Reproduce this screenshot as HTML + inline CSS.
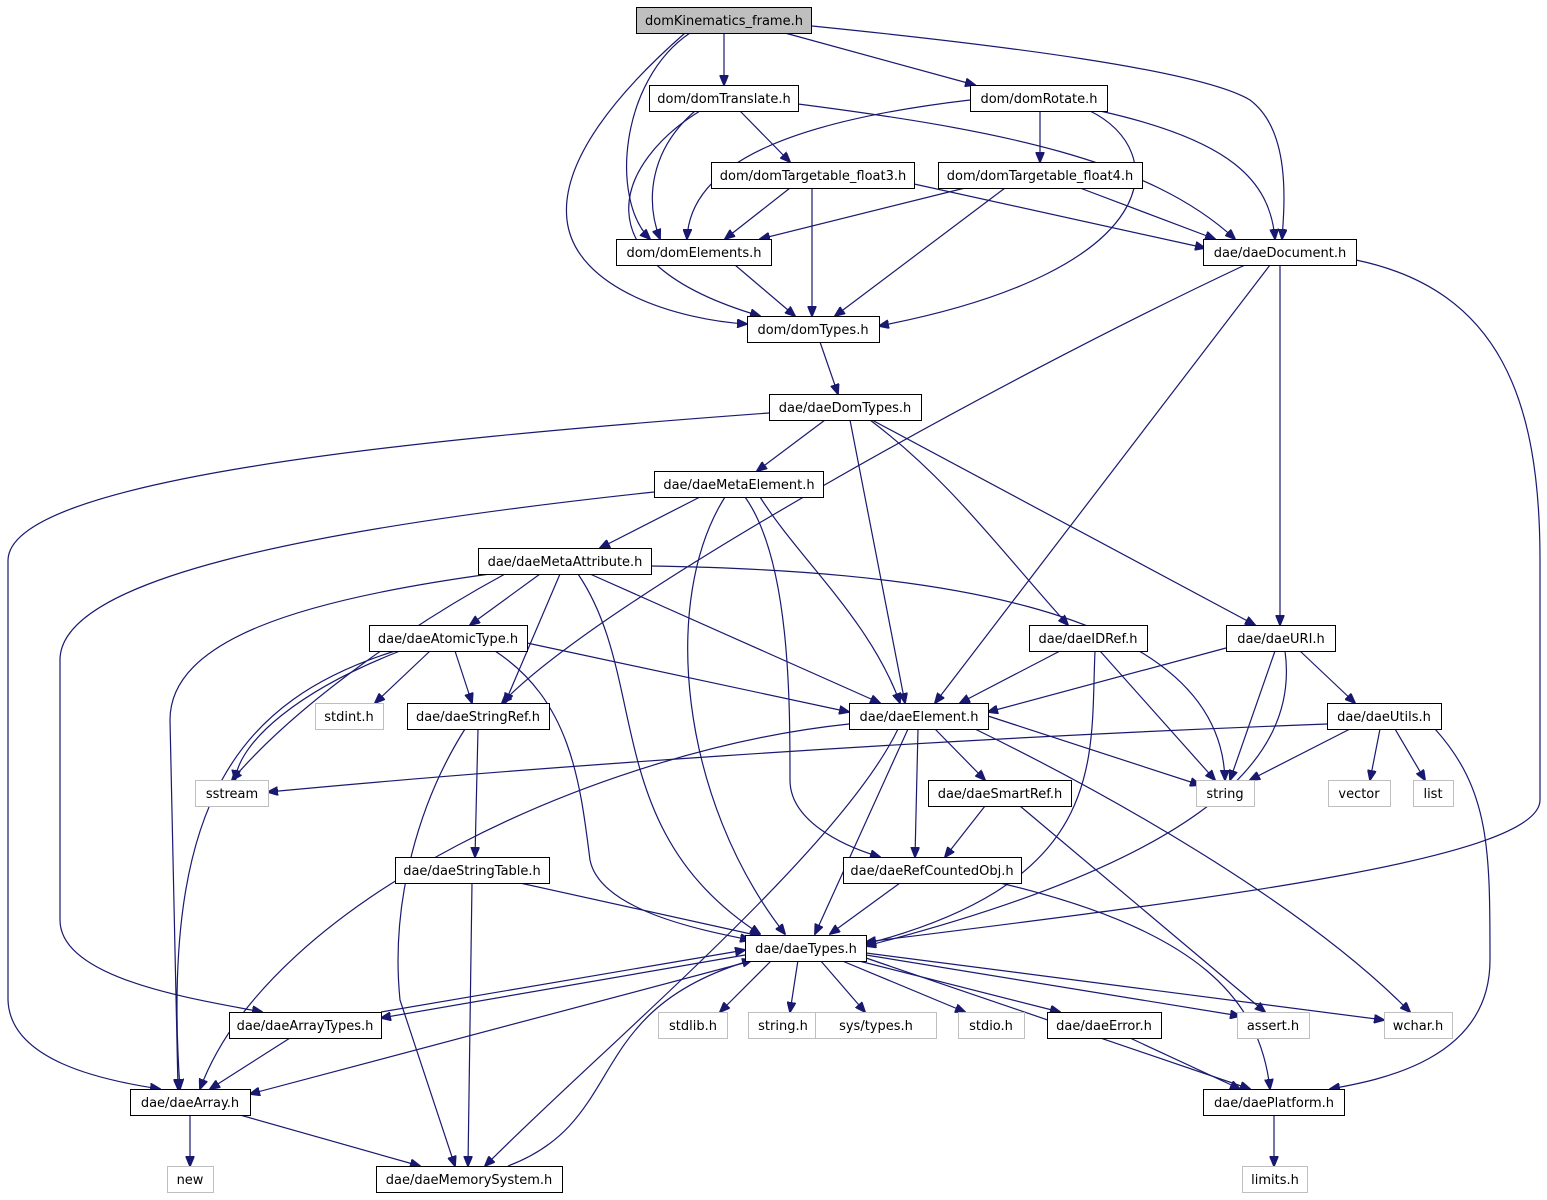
<!DOCTYPE html>
<html><head><meta charset="utf-8"><style>
html,body{margin:0;padding:0;background:#fff;}
svg{display:block;}
text{font-family:"DejaVu Sans","Liberation Sans",sans-serif;font-size:13px;fill:#000;text-anchor:middle;}
.e{fill:none;stroke:#191970;stroke-width:1.2;marker-end:url(#a);}
.n{fill:#fff;stroke:#000;stroke-width:1;}
.g{fill:#fff;stroke:#bfbfbf;stroke-width:1;}
.g+text{fill:#000;}
</style></head><body>
<svg width="1547" height="1200" viewBox="0 0 1547 1200" xmlns="http://www.w3.org/2000/svg">
<defs><marker id="a" markerWidth="11" markerHeight="9" refX="10" refY="4.5" orient="auto" markerUnits="userSpaceOnUse"><path d="M0,0 L11,4.5 L0,9 z" fill="#191970" stroke="#191970"/></marker></defs>
<g>
<path class="e" d="M724 33 L724 85"/>
<path class="e" d="M785 33 L975 85"/>
<path class="e" d="M690 33 C620 80 610 200 650 239"/>
<path class="e" d="M685 33 C620 90 560 160 567 220 C575 290 680 320 747 324"/>
<path class="e" d="M812 26 C1000 45 1200 70 1250 100 C1290 130 1285 200 1282 239"/>
<path class="e" d="M740 111 L790 162"/>
<path class="e" d="M695 111 C650 150 645 200 660 239"/>
<path class="e" d="M700 111 C620 160 570 260 760 316"/>
<path class="e" d="M798 104 C1000 130 1150 160 1235 239"/>
<path class="e" d="M1040 111 L1040 162"/>
<path class="e" d="M970 100 C800 120 690 160 687 239"/>
<path class="e" d="M1090 111 C1170 150 1170 270 879 326"/>
<path class="e" d="M1100 111 C1230 140 1270 180 1275 239"/>
<path class="e" d="M790 188 L725 239"/>
<path class="e" d="M812 188 L812 316"/>
<path class="e" d="M905 182 L1205 248"/>
<path class="e" d="M965 188 L760 239"/>
<path class="e" d="M1005 188 L835 316"/>
<path class="e" d="M1080 188 L1215 239"/>
<path class="e" d="M735 265 L795 316"/>
<path class="e" d="M820 342 L838 394"/>
<path class="e" d="M1245 265 C1000 380 600 600 502 703"/>
<path class="e" d="M1270 265 L935 703"/>
<path class="e" d="M1280 265 L1280 625"/>
<path class="e" d="M1356 260 C1500 290 1540 400 1540 560 L1540 800 C1540 860 1200 900 866 942"/>
<path class="e" d="M825 420 L757 471"/>
<path class="e" d="M850 420 L905 703"/>
<path class="e" d="M870 420 C950 480 1000 550 1068 625"/>
<path class="e" d="M872 420 L1255 625"/>
<path class="e" d="M769 413 C400 440 10 480 8 560 L8 1000 C10 1060 100 1080 160 1089"/>
<path class="e" d="M700 497 L600 548"/>
<path class="e" d="M760 497 C800 560 870 620 900 703"/>
<path class="e" d="M745 497 C790 560 790 700 790 780 C790 820 840 845 880 857"/>
<path class="e" d="M725 497 C660 600 680 800 785 934"/>
<path class="e" d="M654 492 C300 530 60 580 60 660 L60 920 C60 980 200 1000 262 1012"/>
<path class="e" d="M540 574 L470 625"/>
<path class="e" d="M560 574 L505 703"/>
<path class="e" d="M590 574 L880 703"/>
<path class="e" d="M651 566 C900 570 1220 600 1225 780"/>
<path class="e" d="M578 574 C650 680 600 830 760 934"/>
<path class="e" d="M505 574 C420 620 300 700 232 780"/>
<path class="e" d="M490 574 C300 600 170 640 170 720 L178 1089"/>
<path class="e" d="M430 651 L375 703"/>
<path class="e" d="M455 651 L472 703"/>
<path class="e" d="M527 643 L849 712"/>
<path class="e" d="M400 651 C300 690 240 740 235 780"/>
<path class="e" d="M395 651 C240 700 160 800 180 1089"/>
<path class="e" d="M495 651 C570 700 580 780 590 860 C600 910 700 930 750 940"/>
<path class="e" d="M1060 651 L960 703"/>
<path class="e" d="M1100 651 L1215 780"/>
<path class="e" d="M1095 651 C1090 760 1110 880 866 944"/>
<path class="e" d="M1226 648 L988 712"/>
<path class="e" d="M1275 651 L1230 780"/>
<path class="e" d="M1300 651 L1355 703"/>
<path class="e" d="M1285 651 C1300 760 1200 860 866 946"/>
<path class="e" d="M1327 724 C900 740 500 770 268 792"/>
<path class="e" d="M1350 729 L1250 780"/>
<path class="e" d="M1380 729 L1370 780"/>
<path class="e" d="M1395 729 L1425 780"/>
<path class="e" d="M1435 729 C1490 790 1490 850 1490 960 C1490 1060 1380 1080 1330 1089"/>
<path class="e" d="M478 729 L475 857"/>
<path class="e" d="M465 729 C420 800 390 900 400 1000 L455 1166"/>
<path class="e" d="M935 729 L985 780"/>
<path class="e" d="M918 729 L915 857"/>
<path class="e" d="M908 729 L815 934"/>
<path class="e" d="M988 716 L1200 785"/>
<path class="e" d="M975 729 C1100 790 1300 900 1410 1012"/>
<path class="e" d="M849 724 C600 750 270 900 200 1089"/>
<path class="e" d="M898 729 C840 850 600 1050 485 1166"/>
<path class="e" d="M985 806 L945 857"/>
<path class="e" d="M1020 806 L1265 1012"/>
<path class="e" d="M520 883 L760 936"/>
<path class="e" d="M472 883 L468 1166"/>
<path class="e" d="M900 883 L830 934"/>
<path class="e" d="M1000 883 C1200 930 1260 1000 1270 1089"/>
<path class="e" d="M745 955 L381 1018"/>
<path class="e" d="M381 1012 L745 950"/>
<path class="e" d="M772 960 L720 1012"/>
<path class="e" d="M798 960 L790 1012"/>
<path class="e" d="M820 960 L865 1012"/>
<path class="e" d="M840 960 L965 1012"/>
<path class="e" d="M855 960 L1060 1012"/>
<path class="e" d="M866 955 L1240 1016"/>
<path class="e" d="M866 953 L1384 1020"/>
<path class="e" d="M866 958 L1250 1089"/>
<path class="e" d="M755 960 L250 1094"/>
<path class="e" d="M290 1038 L210 1089"/>
<path class="e" d="M508 1166 C630 1120 580 1010 752 960"/>
<path class="e" d="M1130 1038 L1240 1089"/>
<path class="e" d="M190 1115 L190 1166"/>
<path class="e" d="M240 1115 L420 1166"/>
<path class="e" d="M1274 1115 L1274 1166"/>
</g>
<g>
<rect x="636.5" y="7.5" width="175" height="26" fill="#bfbfbf" stroke="#000"/><text x="724" y="25">domKinematics_frame.h</text>
<rect class="n" x="649.5" y="85.5" width="149" height="26"/><text x="724" y="103">dom/domTranslate.h</text>
<rect class="n" x="970.5" y="85.5" width="137" height="26"/><text x="1039" y="103">dom/domRotate.h</text>
<rect class="n" x="711.5" y="162.5" width="203" height="26"/><text x="813" y="180">dom/domTargetable_float3.h</text>
<rect class="n" x="938.5" y="162.5" width="204" height="26"/><text x="1040" y="180">dom/domTargetable_float4.h</text>
<rect class="n" x="616.5" y="239.5" width="155" height="26"/><text x="694" y="257">dom/domElements.h</text>
<rect class="n" x="1203.5" y="239.5" width="153" height="26"/><text x="1280" y="257">dae/daeDocument.h</text>
<rect class="n" x="747.5" y="316.5" width="132" height="26"/><text x="813" y="334">dom/domTypes.h</text>
<rect class="n" x="769.5" y="394.5" width="152" height="26"/><text x="845" y="412">dae/daeDomTypes.h</text>
<rect class="n" x="654.5" y="471.5" width="169" height="26"/><text x="739" y="489">dae/daeMetaElement.h</text>
<rect class="n" x="478.5" y="548.5" width="173" height="26"/><text x="565" y="566">dae/daeMetaAttribute.h</text>
<rect class="n" x="369.5" y="625.5" width="158" height="26"/><text x="448" y="643">dae/daeAtomicType.h</text>
<rect class="n" x="1029.5" y="625.5" width="118" height="26"/><text x="1088" y="643">dae/daeIDRef.h</text>
<rect class="n" x="1226.5" y="625.5" width="109" height="26"/><text x="1281" y="643">dae/daeURI.h</text>
<rect class="g" x="315.5" y="703.5" width="68" height="26"/><text x="349" y="721">stdint.h</text>
<rect class="n" x="407.5" y="703.5" width="142" height="26"/><text x="478" y="721">dae/daeStringRef.h</text>
<rect class="n" x="849.5" y="703.5" width="139" height="26"/><text x="919" y="721">dae/daeElement.h</text>
<rect class="n" x="1327.5" y="703.5" width="114" height="26"/><text x="1384" y="721">dae/daeUtils.h</text>
<rect class="g" x="195.5" y="780.5" width="73" height="26"/><text x="232" y="798">sstream</text>
<rect class="g" x="1196.5" y="780.5" width="58" height="26"/><text x="1225" y="798">string</text>
<rect class="g" x="1328.5" y="780.5" width="62" height="26"/><text x="1359" y="798">vector</text>
<rect class="g" x="1413.5" y="780.5" width="40" height="26"/><text x="1433" y="798">list</text>
<rect class="n" x="928.5" y="780.5" width="143" height="26"/><text x="1000" y="798">dae/daeSmartRef.h</text>
<rect class="n" x="395.5" y="857.5" width="154" height="26"/><text x="472" y="875">dae/daeStringTable.h</text>
<rect class="n" x="843.5" y="857.5" width="178" height="26"/><text x="932" y="875">dae/daeRefCountedObj.h</text>
<rect class="n" x="745.5" y="935.5" width="121" height="26"/><text x="806" y="953">dae/daeTypes.h</text>
<rect class="n" x="229.5" y="1012.5" width="152" height="26"/><text x="305" y="1030">dae/daeArrayTypes.h</text>
<rect class="g" x="658.5" y="1012.5" width="69" height="26"/><text x="693" y="1030">stdlib.h</text>
<rect class="g" x="748.5" y="1012.5" width="70" height="26"/><text x="783" y="1030">string.h</text>
<rect class="g" x="815.5" y="1012.5" width="121" height="26"/><text x="876" y="1030">sys/types.h</text>
<rect class="g" x="958.5" y="1012.5" width="66" height="26"/><text x="991" y="1030">stdio.h</text>
<rect class="n" x="1047.5" y="1012.5" width="114" height="26"/><text x="1104" y="1030">dae/daeError.h</text>
<rect class="g" x="1237.5" y="1012.5" width="72" height="26"/><text x="1273" y="1030">assert.h</text>
<rect class="g" x="1384.5" y="1012.5" width="68" height="26"/><text x="1418" y="1030">wchar.h</text>
<rect class="n" x="130.5" y="1089.5" width="120" height="26"/><text x="190" y="1107">dae/daeArray.h</text>
<rect class="n" x="1203.5" y="1089.5" width="141" height="26"/><text x="1274" y="1107">dae/daePlatform.h</text>
<rect class="g" x="167.5" y="1166.5" width="46" height="26"/><text x="190" y="1184">new</text>
<rect class="n" x="376.5" y="1166.5" width="186" height="26"/><text x="469" y="1184">dae/daeMemorySystem.h</text>
<rect class="g" x="1242.5" y="1166.5" width="65" height="26"/><text x="1275" y="1184">limits.h</text>
</g>
</svg>
</body></html>
